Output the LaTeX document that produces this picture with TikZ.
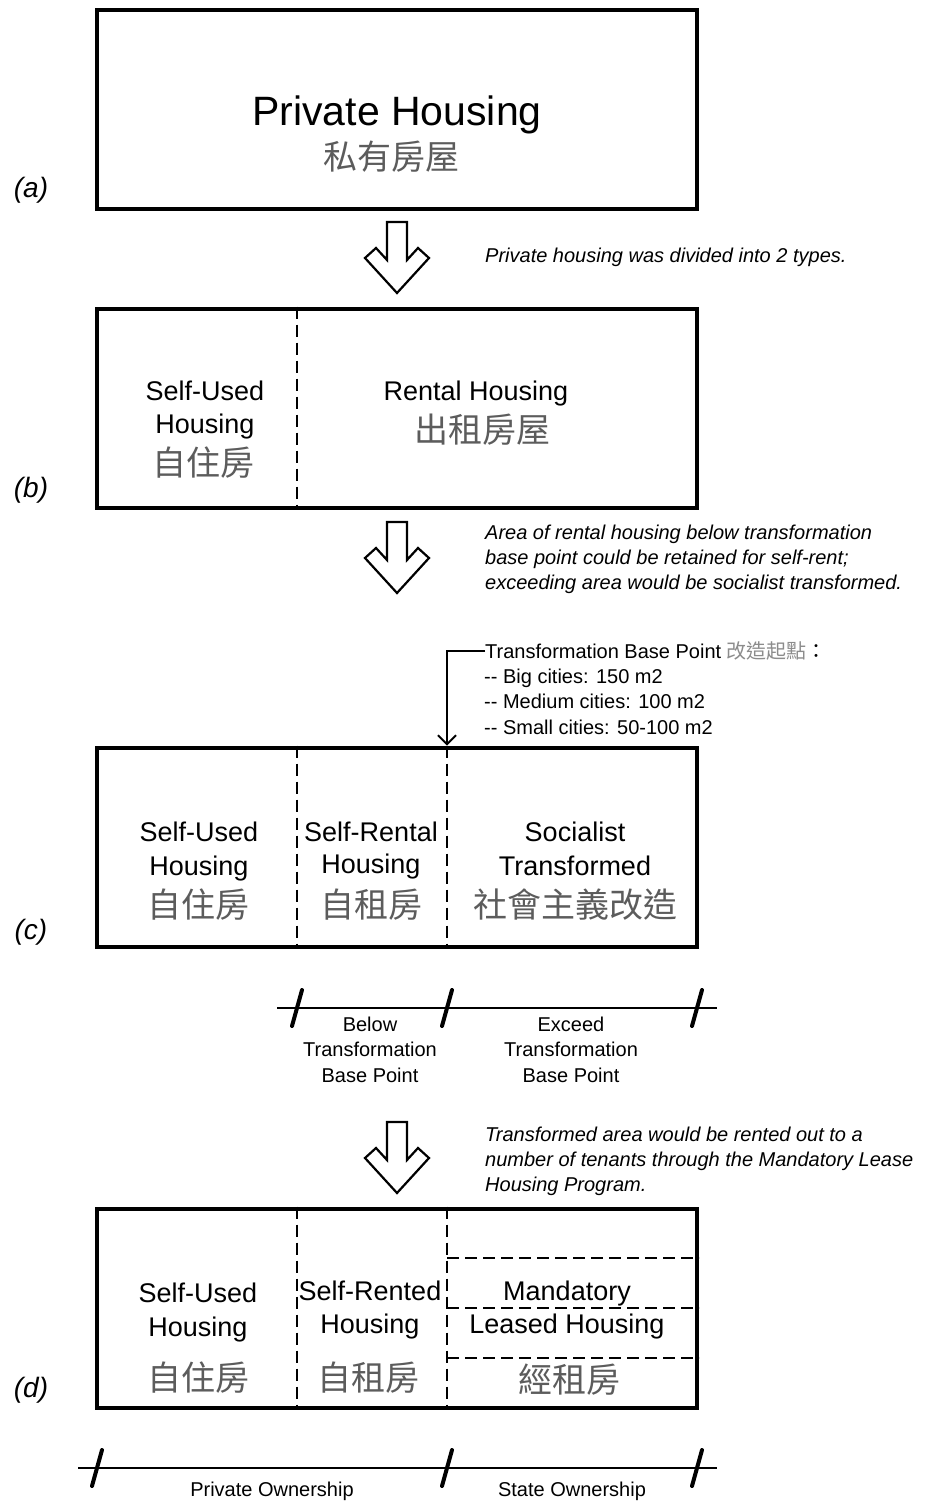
\documentclass[tikz,border=0pt]{standalone}
\usepackage{fontspec}
\setmainfont{Liberation Sans}
\newfontfamily\cjk{Noto Sans CJK TC}
\usetikzlibrary{arrows.meta}
\definecolor{cjkgray}{gray}{0.36}
\definecolor{lightcjk}{gray}{0.55}
\begin{document}
\begin{tikzpicture}[x=1pt,y=-1pt,
  box/.style={draw, line width=4pt, minimum width=600pt, minimum height=199pt, inner sep=0pt},
  div/.style={line width=1.8pt, dash pattern=on 12pt off 6pt},
  lat/.style={font=\fontsize{27}{30}\selectfont, anchor=base, inner sep=0pt},
  zh/.style={font=\fontsize{34}{36}\cjk, text=cjkgray, inner sep=0pt},
  note/.style={font=\fontsize{20}{22}\selectfont\itshape, anchor=base west, inner sep=0pt},
  small/.style={font=\fontsize{20}{22}\selectfont, anchor=base, inner sep=0pt},
  lab/.style={font=\fontsize{28}{30}\selectfont\itshape, inner sep=0pt},
  scaleline/.style={line width=2pt},
  hollow/.pic={\draw[line width=2.2pt, line join=miter, fill=white]
     (-10,0) -- (10,0) -- (10,38) -- (21,26) -- (32,36) -- (0,71)
     -- (-32,36) -- (-21,26) -- (-10,38) -- cycle;},
  tick/.pic={\draw[line width=4pt, line cap=round] (-5,18) -- (5,-18);}
]
\fill[white] (0,0) rectangle (924,1502);
\useasboundingbox (0,0) rectangle (924,1502);

% x positions of dividers
\coordinate (xA) at (297,0);
\coordinate (xB) at (447,0);

% ---------------- (a)
\node[box] (boxa) at (397,109) {};
\node[font=\fontsize{41}{42}\selectfont, anchor=base, inner sep=0pt] (pa) at (397,125) {Private Housing};
\node[zh] (pazh) at (391,157) {私有房屋};
\node[lab] (la) at (31,190) {(a)};

\pic at (397,222) {hollow};
\node[note] (n1) at (485,262) {Private housing was divided into 2 types.};

% ---------------- (b)
\node[box] (boxb) at (397,408) {};
\draw[div] (boxb.north -| xA) -- (boxb.south -| xA);
\node[lat] (b1) at (205,400) {Self-Used};
\node[lat] (b2) at (205,433) {Housing};
\node[zh] (b3) at (203,463) {自住房};
\node[lat] (b4) at (476,400) {Rental Housing};
\node[zh] (b5) at (482,430) {出租房屋};
\node[lab] (lb) at (31,490) {(b)};

\pic at (397,522) {hollow};
\node[note] (n2) at (485,539) {Area of rental housing below transformation};
\node[note] (n3) at (485,564) {base point could be retained for self-rent;};
\node[note] (n4) at (485,589) {exceeding area would be socialist transformed.};

% callout
\node[small, anchor=base west] (t1) at (485,658) {Transformation Base Point {\cjk\color{lightcjk}改造起點}{\cjk ：}};
\node[small, anchor=base west] (t2) at (484,683) {-{}- Big cities: 150 m2};
\node[small, anchor=base west] (t3) at (484,708) {-{}- Medium cities: 100 m2};
\node[small, anchor=base west] (t4) at (484,734) {-{}- Small cities: 50-100 m2};
\coordinate (lead) at (485,651);

% ---------------- (c)
\node[box] (boxc) at (397,847) {};
\draw[div] (boxc.north -| xA) -- (boxc.south -| xA);
\draw[div] (boxc.north -| xB) -- (boxc.south -| xB);
\draw[line width=1.8pt, -{Straight Barb[length=9pt,width=18pt,line width=1.8pt]}]
  (lead) -- (lead -| xB) -- (boxc.north -| xB);
\node[lat] (c1) at (199,841) {Self-Used};
\node[lat] (c2) at (199,875) {Housing};
\node[zh] (c3) at (198,905) {自住房};
\node[lat] (c4) at (371,841) {Self-Rental};
\node[lat] (c5) at (371,873) {Housing};
\node[zh] (c6) at (371,905) {自租房};
\node[lat] (c7) at (575,841) {Socialist};
\node[lat] (c8) at (575,875) {Transformed};
\node[zh] (c9) at (575,905) {社會主義改造};
\node[lab] (lc) at (31,932) {(c)};

% scale 1
\coordinate (s1l) at (277,1008);
\coordinate (s1r) at (717,1008);
\draw[scaleline] (s1l) -- (s1r);
\pic at (297,1008) {tick};
\pic at (447,1008) {tick};
\pic at (697,1008) {tick};
\node[small] (s1a) at (370,1031) {Below};
\node[small] (s1b) at (370,1056) {Transformation};
\node[small] (s1c) at (370,1082) {Base Point};
\node[small] (s1d) at (571,1031) {Exceed};
\node[small] (s1e) at (571,1056) {Transformation};
\node[small] (s1f) at (571,1082) {Base Point};

\pic at (397,1122) {hollow};
\node[note] (n5) at (485,1141) {Transformed area would be rented out to a};
\node[note] (n6) at (485,1166) {number of tenants through the Mandatory Lease};
\node[note] (n7) at (485,1191) {Housing Program.};

% ---------------- (d)
\node[box] (boxd) at (397,1308) {};
\draw[div] (boxd.north -| xA) -- (boxd.south -| xA);
\draw[div] (boxd.north -| xB) -- (boxd.south -| xB);
\coordinate (h1) at (0,1258);
\coordinate (h2) at (0,1308);
\coordinate (h3) at (0,1358);
\draw[div] (h1 -| xB) -- (h1 -| boxd.east);
\draw[div] (h2 -| xB) -- (h2 -| boxd.east);
\draw[div] (h3 -| xB) -- (h3 -| boxd.east);
\node[lat] (d1) at (198,1302) {Self-Used};
\node[lat] (d2) at (198,1336) {Housing};
\node[zh] (d3) at (198,1378) {自住房};
\node[lat] (d4) at (370,1300) {Self-Rented};
\node[lat] (d5) at (370,1333) {Housing};
\node[zh] (d6) at (368,1378) {自租房};
\node[lat] (d7) at (567,1300) {Mandatory};
\node[lat] (d8) at (567,1333) {Leased Housing};
\node[zh] (d9) at (569,1380) {經租房};
\node[lab] (ld) at (31,1390) {(d)};

% scale 2
\coordinate (s2l) at (78,1468);
\coordinate (s2r) at (717,1468);
\draw[scaleline] (s2l) -- (s2r);
\pic at (97,1468) {tick};
\pic at (447,1468) {tick};
\pic at (697,1468) {tick};
\node[small] (o1) at (272,1496) {Private Ownership};
\node[small] (o2) at (572,1496) {State Ownership};
\end{tikzpicture}
\end{document}
